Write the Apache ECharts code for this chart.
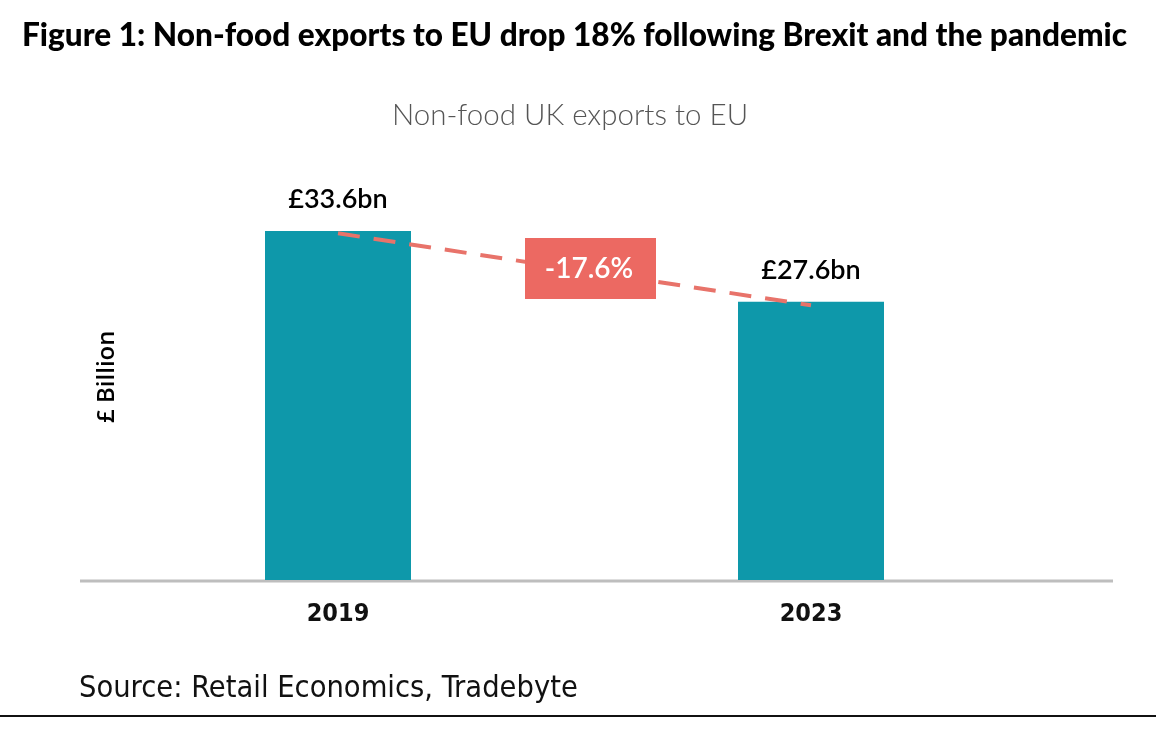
<!DOCTYPE html>
<html>
<head>
<meta charset="utf-8">
<script src="https://cdn.jsdelivr.net/npm/echarts@6/dist/echarts.min.js"></script>
<style>html,body{margin:0;padding:0;background:#fff;}#c{width:1156px;height:732px;}</style>
</head>
<body>
<div id="c"></div>
<script>
const categories = ['2019', '2023'];
const exportValues = [33.6, 27.6];
const valueLabels = ['£33.6bn', '£27.6bn'];
const trendValues = [33.4, 27.3];
const changeLabel = '-17.6%';

const chart = echarts.init(document.getElementById('c'), null, {renderer: 'canvas'});
chart.setOption({
  backgroundColor: '#ffffff',
  animation: false,
  title: [
    {
      text: 'Figure 1: Non-food exports to EU drop 18% following Brexit and the pandemic',
      left: 22, top: 20, padding: 0,
      textStyle: {fontFamily: 'Lato', fontWeight: 900, fontSize: 31.6, color: '#000'}
    },
    {
      text: 'Non-food UK exports to EU',
      left: 570, top: 100, textAlign: 'center', padding: 0,
      textStyle: {fontFamily: 'Lato', fontWeight: 300, fontSize: 29.5, color: '#555'}
    }
  ],
  grid: {left: 101.5, right: 108.5, top: 155.5, bottom: 152},
  xAxis: {
    type: 'category',
    data: categories,
    axisLine: {show: false},
    axisTick: {show: false},
    axisLabel: {
      margin: 22,
      fontFamily: 'DejaVu Sans Condensed', fontWeight: 'bold', fontSize: 25, color: '#111'
    }
  },
  yAxis: {
    type: 'value',
    min: 4, max: 40,
    show: true,
    axisLine: {show: false}, axisTick: {show: false}, axisLabel: {show: false},
    splitLine: {show: false},
    name: '£ Billion',
    nameLocation: 'middle',
    nameGap: -18,
    nameRotate: 90,
    nameTextStyle: {fontFamily: 'Open Sans', fontWeight: 600, fontSize: 24, color: '#000', padding: [0, 18, 0, 0]}
  },
  series: [
    {
      type: 'bar',
      data: exportValues,
      barWidth: 146,
      itemStyle: {color: '#0E98AA'},
      label: {
        show: true, position: 'top', distance: 18,
        formatter: p => valueLabels[p.dataIndex],
        fontFamily: 'Lato', fontWeight: 600, fontSize: 27, color: '#000'
      },
      z: 2
    },
    {
      type: 'line',
      data: trendValues,
      symbol: 'none',
      lineStyle: {color: '#E8736A', width: 4, type: [22, 14]},
      z: 3
    }
  ],
  graphic: [
    {type: 'line', shape: {x1: 80, y1: 581, x2: 1113, y2: 581}, style: {stroke: '#BEBEBE', lineWidth: 3}, z: 1},
    {type: 'line', shape: {x1: 0, y1: 716, x2: 1156, y2: 716}, style: {stroke: '#111', lineWidth: 2}},
    {type: 'rect', shape: {x: 525, y: 238, width: 131, height: 61}, style: {fill: '#EC6962'}, z: 100, zlevel: 1},
    {type: 'text', x: 589, y: 268.5, z: 101, zlevel: 1, style: {text: changeLabel, fill: '#fff', font: '600 28px Lato', align: 'center', verticalAlign: 'middle'}},
    {
      type: 'text', left: 79, top: 674,
      style: {text: 'Source: Retail Economics, Tradebyte', fill: '#111', font: '30.5px "DejaVu Sans Condensed"'}
    }
  ]
});
</script>
</body>
</html>
